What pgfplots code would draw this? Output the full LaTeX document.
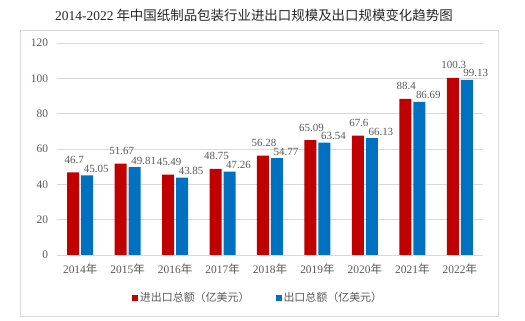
\documentclass[border=0pt]{standalone}
\usepackage{pgfplots}
\pgfplotsset{compat=1.18}
\usepackage{fontspec}
\setmainfont{Liberation Serif}
\newfontfamily\cjk{Noto Sans CJK SC}
\definecolor{cred}{HTML}{C00000}
\definecolor{cblue}{HTML}{0070C0}
\definecolor{gridc}{HTML}{D9D9D9}
\definecolor{txt}{HTML}{595959}
\newcommand{\nian}{{\cjk 年}}
\begin{document}
\begin{tikzpicture}
\useasboundingbox (0,0) rectangle (525bp,321bp);
\draw[gridc, line width=0.8bp] (20bp,5bp) rectangle (498bp,291bp);
\node[font=\cjk\fontsize{13.5}{15}\selectfont, text=black!85] at (254bp,306bp) {{\rmfamily 2014-2022} 年中国纸制品包装行业进出口规模及出口规模变化趋势图};
\begin{axis}[
  at={(56.5bp,66bp)}, anchor=south west,
  scale only axis, width=427bp, height=212bp,
  xmin=-0.5, xmax=8.5, ymin=0, ymax=120,
  ytick={0,20,...,120},
  xtick={0,...,8},
  xticklabels={2014\nian,2015\nian,2016\nian,2017\nian,2018\nian,2019\nian,2020\nian,2021\nian,2022\nian},
  ymajorgrids, grid style={gridc, line width=0.8bp},
  separate axis lines,
  axis x line*=bottom, axis y line*=left,
  y axis line style={draw=none},
  x axis line style={gridc, line width=0.8bp, -},
  major tick length=0pt,
  /pgf/number format/assume math mode=true,
  tick label style={font=\fontsize{11.5}{13}\selectfont, text=txt},
  xticklabel style={yshift=-5bp},
  yticklabel style={xshift=-5bp},
  ybar=2bp, bar width=12bp,
  nodes near coords={\pgfmathprintnumber[fixed,precision=2,assume math mode=true]{\pgfplotspointmeta}},
  nodes near coords style={font=\fontsize{11}{13}\selectfont, text=txt, anchor=base, inner sep=0pt},
  legend style={at={(0.472,-0.203)}, anchor=center, draw=none, fill=none,
    legend columns=2, font=\cjk\fontsize{11}{13}\selectfont, text=txt,
    /tikz/every even column/.style={column sep=24bp},
    /tikz/every odd column/.style={inner xsep=1bp}},
  legend image code/.code={\fill[#1] (0bp,-3bp) rectangle (6bp,3bp);},
]
\addplot[fill=cred, draw=none, every node near coord/.append style={yshift=9bp, xshift=1bp}] coordinates {
(0,46.7) (1,51.67) (2,45.49) (3,48.75) (4,56.28) (5,65.09) (6,67.6) (7,88.4) (8,100.3)};
\addplot[fill=cblue, draw=none, every node near coord/.append style={yshift=3bp, xshift=9bp}] coordinates {
(0,45.05) (1,49.81) (2,43.85) (3,47.26) (4,54.77) (5,63.54) (6,66.13) (7,86.69) (8,99.13)};
\legend{进出口总额（亿美元）, 出口总额（亿美元）}
\end{axis}
\end{tikzpicture}
\end{document}
